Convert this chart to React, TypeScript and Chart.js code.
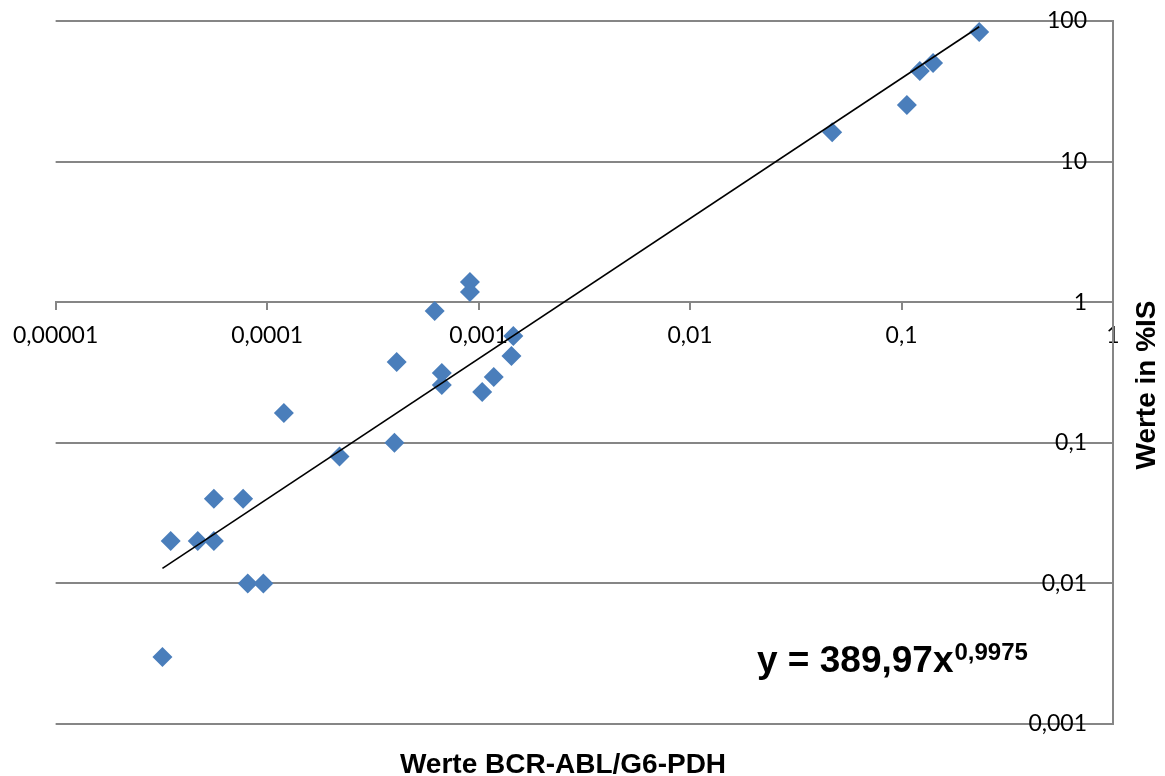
import React, { useEffect, useRef } from 'react';
import { Chart, registerables } from 'chart.js';

Chart.register(...registerables);

// Measured points (BCR-ABL/G6-PDH vs. %IS)
const xValues = [
  3.2e-5, 3.5e-5, 4.7e-5, 5.6e-5, 5.6e-5, 7.7e-5, 8.1e-5, 9.6e-5, 1.2e-4, 2.2e-4,
  4.0e-4, 4.1e-4, 6.2e-4, 6.7e-4, 6.7e-4, 9.1e-4, 9.1e-4, 1.04e-3, 1.18e-3, 1.46e-3,
  1.43e-3, 0.047, 0.106, 0.122, 0.141, 0.233,
];
const yValues = [
  0.003, 0.02, 0.02, 0.02, 0.04, 0.04, 0.01, 0.01, 0.163, 0.08,
  0.1, 0.376, 0.865, 0.314, 0.258, 1.39, 1.18, 0.23, 0.294, 0.575,
  0.414, 16.2, 25.3, 44.1, 50.3, 83.5,
];

// Power trendline endpoints (straight on log-log axes)
const trendX = [3.2e-5, 0.233];
const trendY = [0.0128, 91];

const xTickValues = [0.00001, 0.0001, 0.001, 0.01, 0.1, 1];
const xTickLabels = ['0,00001', '0,0001', '0,001', '0,01', '0,1', '1'];
const yTickValues = [0.001, 0.01, 0.1, 1, 10, 100];
const yTickLabels = ['0,001', '0,01', '0,1', '1', '10', '100'];

const xTitle = 'Werte BCR-ABL/G6-PDH';
const yTitle = 'Werte in %IS';
const eqMain = 'y = 389,97x';
const eqExp = '0,9975';

const GRID = '#868686';
const MARKER = '#4A7EBB';

const textPlugin = {
  id: 'extraTexts',
  afterDraw(chart: any) {
    const ctx = chart.ctx as CanvasRenderingContext2D;
    ctx.save();
    ctx.fillStyle = '#000';
    ctx.textBaseline = 'alphabetic';

    ctx.font = 'bold 28px "Liberation Sans", Arial, sans-serif';
    ctx.textAlign = 'center';
    ctx.fillText(xTitle, 563, 773);

    ctx.save();
    ctx.translate(1155, 385);
    ctx.rotate(-Math.PI / 2);
    ctx.fillText(yTitle, 0, 0);
    ctx.restore();

    ctx.textAlign = 'left';
    ctx.font = 'bold 37px "Liberation Sans", Arial, sans-serif';
    ctx.fillText(eqMain, 757, 672);
    const w = ctx.measureText(eqMain).width;
    ctx.font = 'bold 24px "Liberation Sans", Arial, sans-serif';
    ctx.fillText(eqExp, 757 + w + 1, 660);
    ctx.restore();
  },
};

export default function App() {
  const canvasRef = useRef<HTMLCanvasElement | null>(null);

  useEffect(() => {
    if (!canvasRef.current) return;
    const points = xValues.map((x, i) => ({ x, y: yValues[i] }));
    const trend = trendX.map((x, i) => ({ x, y: trendY[i] }));

    const chart = new Chart(canvasRef.current, {
      type: 'scatter',
      data: {
        datasets: [
          {
            type: 'line',
            label: 'Trend',
            data: trend,
            borderColor: '#000',
            borderWidth: 1.6,
            pointRadius: 0,
            fill: false,
            tension: 0,
          } as any,
          {
            label: 'Werte',
            data: points,
            pointStyle: 'rectRot',
            pointRadius: 10,
            pointHoverRadius: 10,
            backgroundColor: MARKER,
            borderColor: MARKER,
            borderWidth: 0,
          },
        ],
      },
      options: {
        responsive: false,
        animation: false,
        devicePixelRatio: 1,
        layout: { padding: { left: 55, top: 21, right: 52, bottom: 52 } },
        plugins: {
          legend: { display: false },
          tooltip: { enabled: false },
        },
        scales: {
          x: {
            type: 'logarithmic',
            min: 0.00001,
            max: 1,
            position: { y: 1 } as any,
            afterBuildTicks: (scale: any) => {
              scale.ticks = xTickValues.map((v) => ({ value: v }));
            },
            ticks: {
              autoSkip: false,
              maxRotation: 0,
              padding: 13,
              color: '#000',
              font: { family: 'Lato', size: 23 },
              callback: (_v: any, i: number) => xTickLabels[i],
            },
            grid: {
              display: true,
              drawOnChartArea: false,
              drawTicks: true,
              tickLength: 7,
              color: GRID,
              lineWidth: 2,
            },
            border: { display: true, color: GRID, width: 2 },
          },
          y: {
            type: 'logarithmic',
            min: 0.001,
            max: 100,
            position: 'right',
            afterBuildTicks: (scale: any) => {
              scale.ticks = yTickValues.map((v) => ({ value: v }));
            },
            afterFit: (scale: any) => {
              scale.width = 0;
              scale.paddingTop = 0;
              scale.paddingBottom = 0;
              scale.paddingLeft = 0;
              scale.paddingRight = 0;
            },
            ticks: {
              autoSkip: false,
              mirror: true,
              padding: -26,
              color: '#000',
              font: { family: 'Lato', size: 23 },
              callback: (_v: any, i: number) => yTickLabels[i],
            },
            grid: {
              display: true,
              drawOnChartArea: true,
              drawTicks: false,
              color: GRID,
              lineWidth: 2,
            },
            border: { display: true, color: GRID, width: 2 },
          },
        },
      },
      plugins: [textPlugin],
    });
    return () => chart.destroy();
  }, []);

  return (
    <div style={{ position: 'absolute', left: 0, top: 0, width: 1165, height: 776, background: '#fff' }}>
      <canvas ref={canvasRef} width={1165} height={776} />
    </div>
  );
}
